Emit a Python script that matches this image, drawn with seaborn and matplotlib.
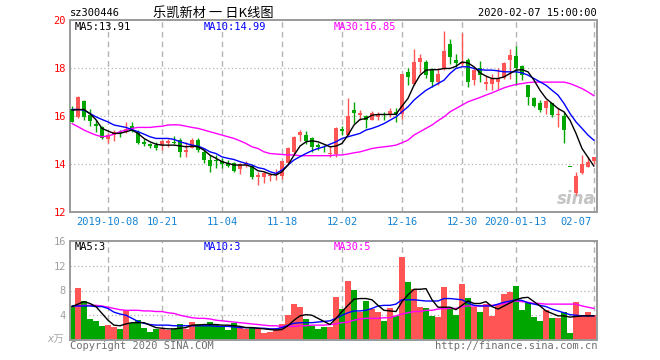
import numpy as np
import pandas as pd
import matplotlib
matplotlib.use("Agg")
import matplotlib.pyplot as plt
import matplotlib.transforms as mtrans
import seaborn as sns

# ---------------- data ----------------
date_idx = [6, 15, 25, 35, 45, 55, 65, 74, 87]
date_labels = ["2019-10-08", "10-21", "11-04", "11-18", "12-02", "12-16", "12-30", "2020-01-13", "02-07"]

opens = [16.30, 15.97, 16.62, 16.04, 15.69, 15.53, 15.03, 15.21, 15.35, 15.35,
         15.58, 15.35, 14.93, 14.83, 14.79, 14.79, 14.86, 14.93, 15.00, 14.51,
         14.69, 15.00, 14.51, 14.17, 14.19, 14.14, 14.06, 14.06, 13.78, 13.96,
         13.92, 13.44, 13.44, 13.50, 13.54, 13.51, 14.06, 14.51, 15.20, 15.20,
         15.07, 14.79, 14.69, 14.42, 14.42, 15.46, 15.20, 16.25, 16.04, 16.00,
         15.86, 15.97, 16.08, 16.08, 16.18, 16.11, 17.85, 17.36, 18.26, 18.26,
         17.92, 17.43, 17.99, 19.00, 18.36, 18.17, 18.33, 17.50, 17.99, 17.36,
         17.36, 17.43, 17.61, 18.33, 18.50, 18.08, 17.29, 16.74, 16.53, 16.35,
         16.53, 16.04, 16.00, 13.87, 12.78, 13.61, 13.89, 14.14]
highs = [16.42, 16.86, 16.67, 16.28, 15.83, 15.58, 15.30, 15.42, 15.42, 15.75,
         15.77, 15.42, 15.03, 14.89, 14.93, 15.00, 15.03, 15.17, 15.07, 14.93,
         15.07, 15.07, 14.61, 14.38, 14.38, 14.24, 14.17, 14.10, 14.06, 14.14,
         14.00, 13.68, 13.68, 13.61, 13.78, 14.14, 14.72, 15.17, 15.42, 15.37,
         15.11, 14.86, 14.79, 14.75, 15.56, 15.58, 16.74, 16.60, 16.25, 16.04,
         16.22, 16.18, 16.18, 16.32, 16.36, 17.75, 17.99, 18.82, 18.61, 18.33,
         17.99, 17.99, 19.56, 19.24, 18.61, 19.47, 18.44, 18.06, 18.31, 17.71,
         17.75, 18.01, 18.26, 18.82, 18.92, 18.12, 17.29, 16.81, 16.69, 16.67,
         16.56, 16.32, 16.18, 13.87, 13.68, 14.37, 14.31, 14.31]
lows = [15.75, 15.94, 15.86, 15.58, 15.35, 15.03, 14.90, 14.97, 15.14, 15.30,
        15.35, 14.83, 14.75, 14.65, 14.58, 14.58, 14.70, 14.83, 14.30, 14.28,
        14.65, 14.51, 14.05, 13.68, 13.82, 13.82, 13.86, 13.68, 13.58, 13.89,
        13.36, 13.13, 13.22, 13.30, 13.33, 13.36, 14.03, 14.44, 14.97, 14.83,
        14.51, 14.58, 14.51, 14.30, 14.30, 15.20, 15.20, 15.72, 15.83, 15.49,
        15.83, 15.83, 15.86, 15.97, 15.76, 15.90, 17.29, 17.29, 17.78, 17.61,
        17.22, 17.29, 17.94, 18.19, 18.06, 18.10, 17.22, 17.32, 17.43, 17.11,
        17.08, 17.15, 17.57, 17.57, 17.29, 17.50, 16.46, 16.39, 16.18, 16.08,
        15.97, 15.56, 14.89, 13.87, 12.71, 13.58, 13.86, 14.00]
closes = [15.77, 16.78, 15.97, 15.80, 15.58, 15.07, 15.20, 15.32, 15.28, 15.45,
          15.45, 14.90, 14.83, 14.75, 14.69, 14.96, 14.96, 14.86, 14.51, 14.58,
          15.00, 14.58, 14.19, 13.94, 14.11, 14.00, 13.92, 13.72, 14.00, 14.03,
          13.44, 13.55, 13.64, 13.54, 13.61, 14.12, 14.65, 15.14, 15.35, 14.97,
          14.72, 14.72, 14.65, 14.47, 15.49, 15.39, 16.00, 16.14, 16.15, 15.86,
          16.14, 16.11, 16.03, 16.22, 16.11, 17.75, 17.64, 18.26, 18.44, 17.71,
          17.43, 17.75, 18.72, 18.47, 18.22, 18.26, 17.43, 17.92, 17.71, 17.43,
          17.53, 17.57, 18.22, 18.54, 18.01, 17.71, 16.78, 16.42, 16.25, 16.62,
          16.04, 16.11, 15.42, 13.87, 13.50, 14.00, 14.07, 14.28]

ma5 = [16.25, 16.27, 16.28, 16.10, 15.85, 15.49, 15.38, 15.28, 15.28, 15.35,
       15.42, 15.28, 15.07, 14.93, 14.83, 14.79, 14.79, 14.79, 14.76, 14.72,
       14.75, 14.72, 14.58, 14.37, 14.24, 14.10, 14.03, 13.96, 13.96, 13.96,
       13.89, 13.72, 13.68, 13.58, 13.54, 13.68, 13.96, 14.37, 14.75, 14.93,
       14.97, 14.93, 14.83, 14.72, 14.75, 14.86, 15.21, 15.63, 15.86, 15.90,
       16.04, 16.07, 16.07, 16.07, 16.08, 16.42, 16.74, 17.29, 17.71, 17.92,
       17.94, 17.94, 17.99, 17.99, 18.08, 18.26, 18.22, 18.06, 17.81, 17.67,
       17.57, 17.57, 17.64, 17.78, 17.92, 17.94, 17.85, 17.50, 17.08, 16.74,
       16.53, 16.32, 16.18, 15.83, 15.28, 14.65, 14.28, 13.91]
ma10 = [16.28, 16.28, 16.25, 16.11, 15.97, 15.86, 15.76, 15.63, 15.58, 15.53,
        15.44, 15.35, 15.25, 15.14, 15.07, 15.07, 15.07, 15.03, 14.93, 14.86,
        14.79, 14.75, 14.65, 14.51, 14.44, 14.30, 14.24, 14.19, 14.10, 14.03,
        13.96, 13.85, 13.80, 13.68, 13.61, 13.75, 13.96, 14.17, 14.31, 14.44,
        14.56, 14.65, 14.72, 14.83, 14.93, 15.07, 15.14, 15.21, 15.28, 15.42,
        15.49, 15.58, 15.69, 15.83, 15.97, 16.18, 16.39, 16.67, 16.88, 17.08,
        17.22, 17.36, 17.50, 17.78, 17.99, 18.06, 18.06, 17.99, 17.94, 17.92,
        17.92, 17.89, 17.85, 17.85, 17.85, 17.81, 17.71, 17.57, 17.43, 17.29,
        17.08, 16.88, 16.53, 16.11, 15.76, 15.49, 15.21, 14.99]
ma30 = [15.69, 15.56, 15.42, 15.31, 15.21, 15.14, 15.17, 15.25, 15.35, 15.42,
        15.49, 15.53, 15.53, 15.53, 15.56, 15.58, 15.63, 15.64, 15.63, 15.58,
        15.53, 15.49, 15.42, 15.35, 15.28, 15.21, 15.14, 15.07, 14.97, 14.86,
        14.72, 14.65, 14.51, 14.44, 14.42, 14.40, 14.38, 14.38, 14.35, 14.35,
        14.35, 14.35, 14.35, 14.35, 14.38, 14.38, 14.42, 14.47, 14.51, 14.58,
        14.65, 14.69, 14.72, 14.75, 14.79, 14.89, 15.00, 15.21, 15.35, 15.49,
        15.63, 15.81, 15.97, 16.18, 16.32, 16.46, 16.60, 16.69, 16.78, 16.88,
        16.97, 17.08, 17.18, 17.26, 17.32, 17.36, 17.40, 17.42, 17.42, 17.42,
        17.42, 17.42, 17.42, 17.36, 17.26, 17.15, 17.01, 16.85]

volume = [5.5, 8.4, 6.3, 3.4, 3.1, 2.3, 2.4, 2.1, 1.8, 4.9,
          2.8, 3.2, 1.9, 1.3, 1.8, 1.8, 1.6, 1.8, 2.6, 1.8,
          2.9, 2.6, 2.3, 2.9, 2.4, 2.3, 1.6, 2.7, 1.9, 1.8,
          1.9, 1.9, 1.1, 1.3, 1.9, 2.6, 4.0, 5.8, 5.3, 3.4,
          2.3, 1.8, 2.1, 2.1, 6.9, 5.0, 9.5, 8.1, 4.5, 6.3,
          5.0, 4.5, 3.1, 5.2, 3.8, 13.4, 9.4, 8.2, 5.3, 5.2,
          3.9, 3.7, 8.5, 5.2, 4.0, 9.0, 6.8, 5.3, 4.5, 5.8,
          3.9, 5.6, 7.4, 7.7, 8.7, 4.8, 6.0, 3.7, 3.1, 4.8,
          3.5, 3.5, 4.5, 1.1, 6.1, 3.9, 4.5, 4.0]
vma5 = [5.4, 5.8, 6.2, 5.9, 5.4, 4.3, 3.2, 2.4, 2.3, 2.6,
        2.8, 2.8, 2.8, 2.4, 2.0, 1.9, 1.8, 1.8, 1.9, 2.0,
        2.4, 2.4, 2.5, 2.5, 2.5, 2.4, 2.4, 2.3, 2.2, 2.0,
        2.0, 1.9, 1.8, 1.7, 1.6, 1.7, 2.3, 3.2, 3.9, 4.1,
        4.0, 3.5, 3.0, 2.5, 3.5, 4.6, 5.6, 6.6, 6.7, 6.7,
        6.5, 5.6, 4.8, 4.7, 4.6, 6.2, 7.3, 8.2, 8.2, 8.3,
        6.5, 5.3, 5.3, 5.3, 4.9, 5.6, 6.3, 5.9, 5.9, 6.2,
        5.4, 5.0, 5.5, 6.0, 6.5, 6.8, 6.9, 6.2, 5.5, 4.7,
        4.3, 3.9, 3.9, 3.7, 3.8, 3.9, 3.9, 3.9]
vma10 = [5.5, 5.5, 5.5, 5.5, 5.4, 5.4, 5.1, 4.5, 4.2, 4.0,
         3.5, 3.0, 2.7, 2.5, 2.4, 2.4, 2.4, 2.3, 2.3, 2.3,
         2.3, 2.3, 2.3, 2.3, 2.2, 2.2, 2.2, 2.1, 2.0, 2.0,
         2.0, 1.9, 1.9, 1.8, 1.8, 2.0, 2.4, 2.7, 2.8, 2.8,
         2.8, 2.9, 3.0, 3.1, 3.5, 4.0, 4.4, 4.7, 4.7, 4.8,
         5.1, 5.5, 5.6, 5.6, 5.8, 6.5, 6.5, 6.5, 6.4, 6.3,
         6.3, 6.3, 6.7, 6.7, 6.6, 6.5, 6.0, 5.6, 5.5, 5.5,
         5.5, 5.8, 6.1, 6.3, 6.5, 6.4, 6.0, 5.8, 5.6, 5.4,
         5.0, 4.7, 4.4, 4.1, 4.0, 3.9, 3.9, 3.9]
vma30 = [5.4, 5.5, 5.6, 5.6, 5.6, 5.5, 5.3, 5.1, 4.9, 4.8,
         4.8, 4.8, 4.7, 4.7, 4.6, 4.6, 4.4, 4.3, 4.0, 3.8,
         3.6, 3.5, 3.5, 3.4, 3.2, 3.1, 3.0, 2.9, 2.8, 2.7,
         2.6, 2.5, 2.4, 2.3, 2.3, 2.2, 2.2, 2.2, 2.3, 2.3,
         2.4, 2.4, 2.4, 2.5, 2.6, 2.8, 2.9, 3.2, 3.4, 3.5,
         3.5, 3.5, 3.6, 3.6, 3.9, 4.2, 4.4, 4.6, 4.6, 4.8,
         4.8, 5.0, 5.1, 5.1, 5.1, 5.4, 5.5, 5.5, 5.5, 5.6,
         5.6, 5.7, 5.9, 6.1, 6.3, 6.2, 6.1, 5.9, 5.9, 5.8,
         5.8, 5.8, 5.8, 5.8, 5.8, 5.5, 5.3, 5.1]

price_ticks = [12, 14, 16, 18, 20]
vol_ticks = [4, 8, 12, 16]
ma_price_labels = ["MA5:13.91", "MA10:14.99", "MA30:16.85"]
ma_vol_labels = ["MA5:3", "MA10:3", "MA30:5"]

# ---------------- styling ----------------
RED = "#ff5555"
GREEN = "#00a600"
BLUE = "#0000ff"
MAGENTA = "#ff00ff"
GRID = "#b4b4b4"
FRAME = "#9a9a9a"
XLAB = "#1383d4"

sns.set_theme(style="white")
plt.rcParams['font.family'] = ['DejaVu Sans Mono', 'Noto Sans CJK SC']

n = len(closes)
idx = np.arange(n)
direction = []
for i in range(n):
    if closes[i] > opens[i]:
        direction.append("up")
    elif closes[i] < opens[i]:
        direction.append("down")
    else:
        direction.append("up" if i > 0 and closes[i] > closes[i - 1] else "down")
cols = [RED if d == "up" else GREEN for d in direction]

W, H = 660, 360
fig = plt.figure(figsize=(6.6, 3.6), dpi=100)
fig.patch.set_facecolor("white")


def fx(px):
    return px / W


def fy(py):
    return 1 - py / H


ax = fig.add_axes([fx(70), fy(212), fx(597) - fx(70), fy(20.3) - fy(212)])
axv = fig.add_axes([fx(70), fy(340), fx(597) - fx(70), fy(241) - fy(340)])

XMIN, XMAX = -0.33, 87.5

# ---- price panel ----
for y in [14, 16, 18]:
    ax.axhline(y, color=GRID, lw=0.9, ls=(0, (1, 2)), zorder=0)
for d in date_idx:
    ax.axvline(d, color=GRID, lw=1.0, ls=(0, (4, 3)), zorder=0)

ax.vlines(idx, lows, highs, colors=cols, lw=1.0, zorder=2)
bottoms = np.minimum(opens, closes)
heights = np.maximum(np.abs(np.array(closes) - np.array(opens)), 0.03)
bodies = ax.bar(idx, heights, bottom=bottoms, width=0.78, color=cols, linewidth=0, zorder=3)
for b in bodies:
    b.set_antialiased(False)

pdf = pd.DataFrame({"i": idx, "ma5": ma5, "ma10": ma10, "ma30": ma30})
sns.lineplot(data=pdf, x="i", y="ma30", color=MAGENTA, lw=1.0, ax=ax, zorder=4)
sns.lineplot(data=pdf, x="i", y="ma10", color=BLUE, lw=1.0, ax=ax, zorder=5)
sns.lineplot(data=pdf, x="i", y="ma5", color="black", lw=1.0, ax=ax, zorder=6)

ax.set_xlim(XMIN, XMAX)
ax.set_ylim(12, 20)
ax.set_yticks(price_ticks)
ax.set_yticklabels([str(t) for t in price_ticks])
ax.tick_params(axis="y", length=0, pad=3, labelsize=7.5, labelcolor="red")
ax.set_xticks([])
ax.set_xlabel("")
ax.set_ylabel("")
for s in ax.spines.values():
    s.set_color(FRAME)
    s.set_linewidth(1.4)

trans = mtrans.blended_transform_factory(ax.transData, ax.transAxes)
for k, (d, lab) in enumerate(zip(date_idx, date_labels)):
    if k == len(date_idx) - 1:
        t = mtrans.offset_copy(trans, fig=fig, x=-2, y=0, units="dots")
        ax.text(d, -0.052, lab, transform=t, ha="right", va="center",
                color=XLAB, fontsize=7.5)
    else:
        ax.text(d, -0.052, lab, transform=trans, ha="center", va="center",
                color=XLAB, fontsize=7.5)

# watermark
ax.text(0.998, 0.07, "sina", transform=ax.transAxes, ha="right", va="center",
        fontsize=12, color="#c4c4c4", style="italic", fontweight="bold",
        family="DejaVu Sans", zorder=1)

# ---- volume panel ----
for y in [4, 8, 12]:
    axv.axhline(y, color=GRID, lw=0.9, ls=(0, (1, 2)), zorder=0)
for d in date_idx:
    axv.axvline(d, color=GRID, lw=1.0, ls=(0, (4, 3)), zorder=0)

vdf = pd.DataFrame({"i": idx, "vol": volume,
                    "vma5": vma5, "vma10": vma10, "vma30": vma30})
sns.barplot(data=vdf, x="i", y="vol", color=RED, width=0.86,
            saturation=1, linewidth=0, ax=axv, zorder=2)
for patch, c in zip(axv.patches, cols):
    patch.set_facecolor(c)
    patch.set_edgecolor("none")
    patch.set_antialiased(False)
sns.lineplot(data=vdf, x="i", y="vma30", color=MAGENTA, lw=1.0, ax=axv, zorder=4)
sns.lineplot(data=vdf, x="i", y="vma10", color=BLUE, lw=1.0, ax=axv, zorder=5)
sns.lineplot(data=vdf, x="i", y="vma5", color="black", lw=1.0, ax=axv, zorder=6)

axv.set_xlim(XMIN, XMAX)
axv.set_ylim(0, 16)
axv.set_yticks(vol_ticks)
axv.set_yticklabels([str(t) for t in vol_ticks])
axv.tick_params(axis="y", length=0, pad=3, labelsize=7.5, labelcolor="#a0a0a0")
axv.set_xticks([])
axv.set_xlabel("")
axv.set_ylabel("")
for s in axv.spines.values():
    s.set_color(FRAME)
    s.set_linewidth(1.4)
axv.text(-0.012, 0.0, "x万", transform=axv.transAxes, ha="right", va="center",
         fontsize=7.5, color="#a8a8a8", style="italic",
         family=["DejaVu Sans Mono", "Noto Sans CJK SC"])

# ---- header / legends / footer ----
fig.text(fx(70), fy(13), "sz300446", ha="left", va="center", fontsize=7.5, color="black")
fig.text(fx(213), fy(13), "乐凯新材 一 日K线图", ha="center", va="center", fontsize=9.5,
         color="black", family=["Noto Sans CJK SC", "DejaVu Sans"])
fig.text(fx(597), fy(13), "2020-02-07 15:00:00", ha="right", va="center",
         fontsize=7.5, color="black")

ma_cols = ["black", BLUE, MAGENTA]
for lab, c, xp in zip(ma_price_labels, ma_cols, [75, 204, 334]):
    fig.text(fx(xp), fy(26.5), lab, ha="left", va="center", fontsize=7.5, color=c)
for lab, c, xp in zip(ma_vol_labels, ma_cols, [75, 204, 334]):
    fig.text(fx(xp), fy(246.5), lab, ha="left", va="center", fontsize=7.5, color=c)

fig.text(fx(70), fy(346), "Copyright 2020 SINA.COM", ha="left", va="center",
         fontsize=7.5, color="#707070")
fig.text(fx(597), fy(346), "http://finance.sina.com.cn", ha="right", va="center",
         fontsize=7.5, color="#707070")

fig.savefig("out.png", dpi=100, facecolor="white")
